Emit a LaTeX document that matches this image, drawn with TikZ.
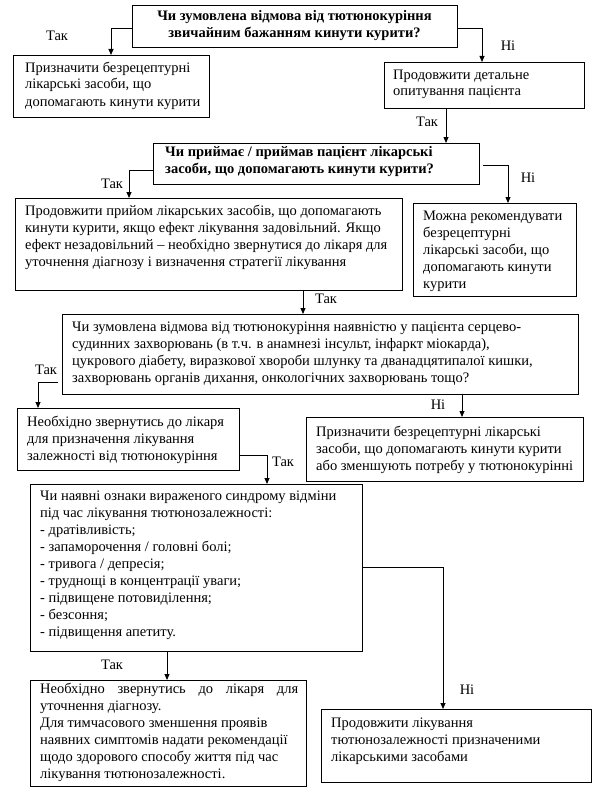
\documentclass[tikz,border=0pt]{standalone}
\usepackage{fontspec}
\setmainfont{Liberation Serif}
\usetikzlibrary{arrows.meta,calc}
\newcommand\myfs{\fontsize{14.5}{17}\selectfont}
\newcommand\txtlines[1]{\begin{tabular}[t]{@{}l@{}}#1\end{tabular}}
\newcommand\flbox[5]{\node[box, minimum width={#4pt-#2pt}, minimum height={#5pt-#3pt}] (#1) at (#2,#3) {};}
\begin{document}
\begin{tikzpicture}[x=1pt,y=-1pt,
  box/.style={draw, line width=0.8pt, anchor=north west, inner sep=0pt, outer sep=0pt},
  txt/.style={anchor=base west, inner sep=0pt, font=\myfs},
  lbl/.style={inner sep=0pt, font=\myfs},
  arr/.style={line width=0.8pt, -{Triangle[length=6pt,width=5pt]}}]
\fill[white] (0,0) rectangle (600,792);
\useasboundingbox (0,0) rectangle (600,792);
% boxes
\flbox{b1}{132}{5}{457}{47}
\flbox{b2}{13}{55}{209}{117}
\flbox{b3}{384}{62}{584}{108}
\flbox{b4}{153}{143}{479}{184}
\flbox{b5}{15}{198}{402}{290}
\flbox{b6}{413}{203}{576}{296}
\flbox{b7}{62}{314}{578}{394}
\flbox{b8}{17}{408}{239}{470}
\flbox{b9}{306}{417}{583}{481}
\flbox{b10}{30}{484}{362}{651}
\flbox{b11}{321}{709}{591}{782}
\flbox{b12}{30}{680}{306}{786}
% texts
\node[lbl, font=\myfs\bfseries, align=center] (t1) at (b1.center) {Чи зумовлена відмова від тютюнокуріння\\звичайним бажанням кинути курити?};
\node[txt] (t2) at (25,72) {\txtlines{Призначити безрецептурні\\лікарські засоби, що\\допомагають кинути курити}};
\node[txt] (t3) at (393,79) {\txtlines{Продовжити детальне\\опитування пацієнта}};
\node[txt, font=\myfs\bfseries] (t4) at (165,156) {\txtlines{Чи приймає / приймав пацієнт лікарські\\засоби, що допомагають кинути курити?}};
\node[txt] (t5) at (25,215) {\txtlines{Продовжити прийом лікарських засобів, що допомагають\\кинути курити, якщо ефект лікування задовільний. Якщо\\ефект незадовільний – необхідно звернутися до лікаря для\\уточнення діагнозу і визначення стратегії лікування}};
\node[txt] (t6) at (423,220) {\txtlines{Можна рекомендувати\\безрецептурні\\лікарські засоби, що\\допомагають кинути\\курити}};
\node[txt] (t7) at (72,331) {\txtlines{Чи зумовлена відмова від тютюнокуріння наявністю у пацієнта серцево-\\судинних захворювань (в т.ч. в анамнезі інсульт, інфаркт міокарда),\\цукрового діабету, виразкової хвороби шлунку та дванадцятипалої кишки,\\захворювань органів дихання, онкологічних захворювань тощо?}};
\node[txt] (t8) at (27,426) {\txtlines{Необхідно звернутись до лікаря\\для призначення лікування\\залежності від тютюнокуріння}};
\node[txt] (t9) at (316,436) {\txtlines{Призначити безрецептурні лікарські\\засоби, що допомагають кинути курити\\або зменшують потребу у тютюнокурінні}};
\node[txt] (t10) at (40,500) {\txtlines{Чи наявні ознаки вираженого синдрому відміни\\під час лікування тютюнозалежності:\\- дратівливість;\\- запаморочення / головні болі;\\- тривога / депресія;\\- труднощі в концентрації уваги;\\- підвищене потовиділення;\\- безсоння;\\- підвищення апетиту.}};
\node[txt] (t12) at (40,693) {\txtlines{\makebox[258pt][s]{Необхідно звернутись до лікаря для}\\уточнення діагнозу.\\Для тимчасового зменшення проявів\\наявних симптомів надати рекомендації\\щодо здорового способу життя під час\\лікування тютюнозалежності.}};
\node[txt] (t11) at (331,727) {\txtlines{Продовжити лікування\\тютюнозалежності призначеними\\лікарськими засобами}};
% labels
\node[lbl] (l1) at (57,36) {Так};
\node[lbl] (l2) at (508,46) {Ні};
\node[lbl] (l3) at (427,122) {Так};
\node[lbl] (l4) at (112,184) {Так};
\node[lbl] (l5) at (528,178) {Ні};
\node[lbl] (l6) at (326,299) {Так};
\node[lbl] (l7) at (46,370) {Так};
\node[lbl] (l8) at (438,405) {Ні};
\node[lbl] (l9) at (283,462) {Так};
\node[lbl] (l10) at (467,690) {Ні};
\node[lbl] (l11) at (112,665) {Так};
% connectors
\coordinate (p3) at ([xshift=62pt]b3.south west);
\coordinate (p6) at ([xshift=288pt]b5.south west);
\coordinate (p8) at ([xshift=400pt]b7.south west);
\coordinate (p11) at ([xshift=137pt]b10.south west);
\draw[arr] ([yshift=-2pt]b1.west) -| ([xshift=98pt]b2.north west);
\draw[arr] ([yshift=-2pt]b1.east) -| ([xshift=98pt]b3.north west);
\draw[arr] (p3) -- (p3 |- b4.north);
\draw[arr] ([yshift=-6.5pt]b4.west) -| ([xshift=114pt]b5.north west);
\draw[arr] ([shift={(4pt,-1.5pt)}]b4.east) -| ([xshift=95pt]b6.north west);
\draw[arr] (p6) -- (p6 |- b7.north);
\draw[arr] ([shift={(-4pt,-28pt)}]b7.west) -| ([xshift=21pt]b8.north west);
\draw[arr] (p8) -- (p8 |- b9.north);
\draw[arr] ([yshift=-16pt]b8.east) -| ([xshift=237pt]b10.north west);
\draw[arr] (b10.east) -| ([xshift=122pt]b11.north west);
\draw[arr] (p11) -- (p11 |- b12.north);
\end{tikzpicture}
\end{document}
